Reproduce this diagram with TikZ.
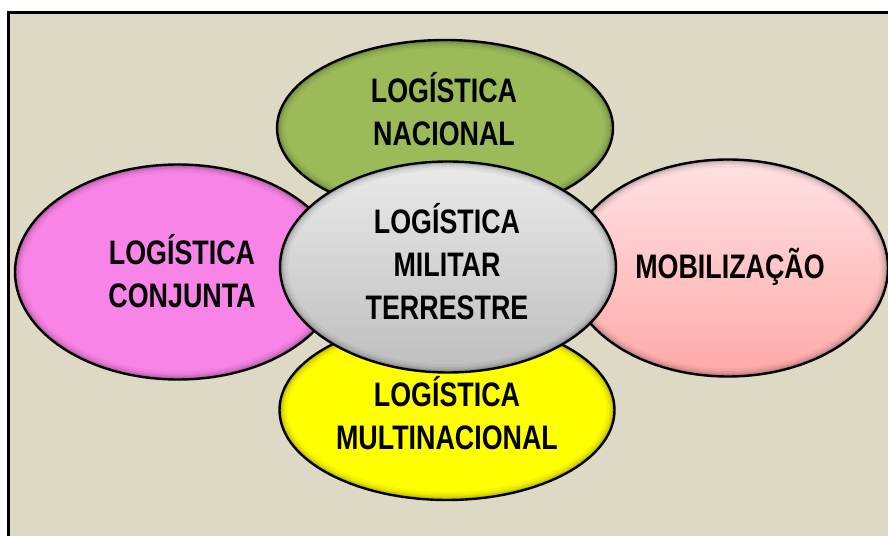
\documentclass[tikz,border=0pt]{standalone}
\usepackage{fontspec}
\newfontfamily\narrowsans{Liberation Sans}[FakeStretch=0.79]
\definecolor{panelbeige}{RGB}{221,217,196}
\definecolor{petalgreen}{RGB}{155,187,89}
\definecolor{petalpink}{RGB}{249,132,232}
\definecolor{petalyellow}{RGB}{255,255,0}
\definecolor{roselight}{RGB}{255,226,228}
\definecolor{rosedark}{RGB}{255,168,168}
\definecolor{greylight}{RGB}{234,234,234}
\definecolor{greydark}{RGB}{190,190,190}
\usetikzlibrary{shapes.geometric, calc}

\begin{document}
\begin{tikzpicture}[
    x=1pt, y=1pt,
    petal/.style={ellipse, draw, line width=2.4pt, inner sep=0pt, rim},
    rim/.style={path picture={
        \foreach \w/\o in {16/0.04, 11/0.06, 7/0.08, 4/0.12} {
            \draw[black, opacity=\o, line width=\w pt]
                let \p1=($(path picture bounding box.north east)-(path picture bounding box.center)$) in
                (path picture bounding box.center) ellipse [x radius=\x1, y radius=\y1];
        }
    }},
    caption/.style={font=\narrowsans\bfseries\fontsize{34}{43}\selectfont, align=center, text=black}
]
    % Page and frame
    \useasboundingbox (0,0) rectangle (888,535);
    \fill[white] (0,0) rectangle (888,535);
    \clip (0,0) rectangle (888,535);
    \draw[line width=3pt, fill=panelbeige] (8.5,-20) rectangle (920,522.5);

    % Outer petals
    \node[petal, fill=petalgreen, minimum width=336, minimum height=176] (nacional) at (445,407) {};
    \node[petal, fill=petalyellow, minimum width=335, minimum height=180] (multi) at (447,125) {};
    \node[petal, fill=petalpink, minimum width=326, minimum height=215] (conjunta) at (178,263) {};
    \node[petal, top color=roselight, bottom color=rosedark, minimum width=320, minimum height=217] (mobil) at (728,267) {};

    % Center
    \node[petal, top color=greylight, bottom color=greydark, minimum width=336, minimum height=211] (centro) at (448,268) {};

    % Texts
    \node[caption] (nacional-txt) at (444,425.5) {LOGÍSTICA\\NACIONAL};
    \node[caption] (multi-txt) at (447,121.5) {LOGÍSTICA\\MULTINACIONAL};
    \node[caption] (conjunta-txt) at (182,264) {LOGÍSTICA\\CONJUNTA};
    \node[caption] (mobil-txt) at (730,268) {MOBILIZAÇÃO};
    \node[caption] (centro-txt) at (447,273.5) {LOGÍSTICA\\MILITAR\\TERRESTRE};

\end{tikzpicture}
\end{document}
